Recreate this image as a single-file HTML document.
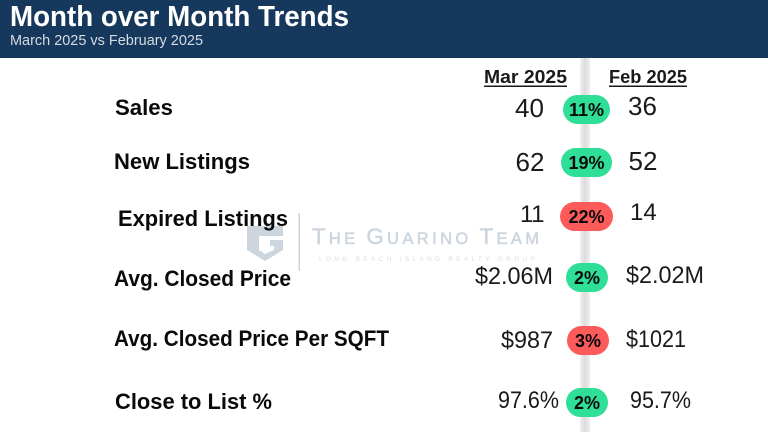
<!DOCTYPE html>
<html lang="en">
<head>
<meta charset="utf-8">
<title>Month over Month Trends</title>
<style>
html,body{margin:0;padding:0;background:#fff;width:768px;height:432px;overflow:hidden}
svg{display:block}
text{font-family:"Liberation Sans",sans-serif}
.lab{font-size:22px;font-weight:700;fill:#0a0a0a}
.val{font-size:26px;fill:#1a1a1a}
.val2{font-size:24px;fill:#1a1a1a}
.val3{font-size:24px;fill:#1a1a1a}
.hd{font-size:18.500px;font-weight:700;fill:#1a1a1a}
.pt{font-size:18px;font-weight:700;fill:#0a0a0a;text-anchor:middle}
.g{fill:#2fde97}
.r{fill:#fd5a5a}
</style>
</head>
<body>
<svg width="768" height="432" viewBox="0 0 768 432" xmlns="http://www.w3.org/2000/svg">
<defs>
<linearGradient id="barGrad" x1="0" x2="1" y1="0" y2="0">
<stop offset="0" stop-color="#f1f1f1"/><stop offset=".5" stop-color="#dcdcdc"/><stop offset="1" stop-color="#efefef"/>
</linearGradient>
</defs>
<rect width="768" height="432" fill="#fff"/>

<g>
<path d="M247 226H283V236H259V250L265 254L274 250V246H270V240H283V250L265 261L247 250Z" fill="#cdd6df"/>
<rect x="298.500" y="213" width="1.500" height="58" fill="#cdd6df"/>
<text x="312" y="244" fill="#cdd6df" stroke="#cdd6df" stroke-width=".6" textLength="227" lengthAdjust="spacing"><tspan font-size="22">T</tspan><tspan font-size="16.500">HE </tspan><tspan font-size="22">G</tspan><tspan font-size="16.500">UARINO </tspan><tspan font-size="22">T</tspan><tspan font-size="16.500">EAM</tspan></text>
<text x="319" y="261" font-size="6.500" fill="#d8dfe6" textLength="216" lengthAdjust="spacing">LONG BEACH ISLAND REALTY GROUP</text>
</g>

<rect x="580" y="58" width="10" height="374" fill="url(#barGrad)"/>

<g>
<rect width="768" height="58" fill="#17385d"/>
<text x="10" y="26" font-size="29" font-weight="700" fill="#fff" textLength="339" lengthAdjust="spacingAndGlyphs">Month over Month Trends</text>
<text x="10" y="45" font-size="15" fill="#d3dbe4" textLength="193" lengthAdjust="spacingAndGlyphs">March 2025 vs February 2025</text>
</g>

<g>
<text class="hd" x="484" y="83" textLength="83" lengthAdjust="spacingAndGlyphs">Mar 2025</text>
<rect x="484" y="85.500" width="83" height="1.500" fill="#1a1a1a"/>
<text class="hd" x="609" y="83" textLength="78" lengthAdjust="spacingAndGlyphs">Feb 2025</text>
<rect x="609" y="85.500" width="78" height="1.500" fill="#1a1a1a"/>
</g>

<g>
<text class="lab" x="115" y="115" textLength="58" lengthAdjust="spacingAndGlyphs">Sales</text>
<text class="lab" x="114" y="169" textLength="136" lengthAdjust="spacingAndGlyphs">New Listings</text>
<text class="lab" x="118" y="226" textLength="170" lengthAdjust="spacingAndGlyphs">Expired Listings</text>
<text class="lab" x="114" y="286" textLength="177" lengthAdjust="spacingAndGlyphs">Avg. Closed Price</text>
<text class="lab" x="114" y="346" textLength="275" lengthAdjust="spacingAndGlyphs">Avg. Closed Price Per SQFT</text>
<text class="lab" x="115" y="409" textLength="157" lengthAdjust="spacingAndGlyphs">Close to List %</text>
</g>

<g>
<text class="val" x="515" y="117">40</text>
<text class="val" x="515.500" y="171">62</text>
<text class="val2" x="520" y="222" letter-spacing="-.5">11</text>
<text class="val2" x="475" y="284" textLength="78" lengthAdjust="spacingAndGlyphs">$2.06M</text>
<text class="val2" x="501" y="348" textLength="52" lengthAdjust="spacingAndGlyphs">$987</text>
<text class="val3" x="498" y="408" textLength="61" lengthAdjust="spacingAndGlyphs">97.6%</text>
</g>

<g>
<text class="val" x="628" y="115">36</text>
<text class="val" x="628.500" y="170">52</text>
<text class="val2" x="630" y="220">14</text>
<text class="val2" x="626" y="283" textLength="78" lengthAdjust="spacingAndGlyphs">$2.02M</text>
<text class="val3" x="626" y="347" textLength="60" lengthAdjust="spacingAndGlyphs">$1021</text>
<text class="val3" x="630" y="408" textLength="61" lengthAdjust="spacingAndGlyphs">95.7%</text>
</g>

<g>
<g><rect class="g" x="563" y="95" width="47" height="29" rx="14.500"/><text class="pt" x="586.500" y="116">11%</text></g>
<g><rect class="g" x="561" y="148" width="51" height="29" rx="14.500"/><text class="pt" x="586.500" y="169">19%</text></g>
<g><rect class="r" x="560" y="202" width="53" height="29" rx="14.500"/><text class="pt" x="586.500" y="223">22%</text></g>
<g><rect class="g" x="566" y="263" width="42" height="29" rx="14.500"/><text class="pt" x="587" y="284">2%</text></g>
<g><rect class="r" x="567" y="326" width="42" height="29" rx="14.500"/><text class="pt" x="588" y="347">3%</text></g>
<g><rect class="g" x="566" y="388" width="42" height="29" rx="14.500"/><text class="pt" x="587" y="409">2%</text></g>
</g>
</svg>
</body>
</html>
